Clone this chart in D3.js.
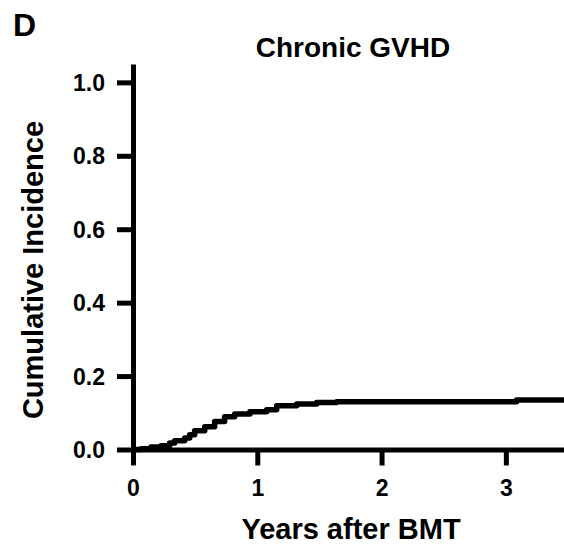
<!DOCTYPE html>
<html>
<head>
<meta charset="utf-8">
<script src="https://cdn.jsdelivr.net/npm/d3@7"></script>
<style>
  html, body { margin: 0; padding: 0; background: #fff; }
  svg { display: block; font-family: "Liberation Sans", Arial, Helvetica, sans-serif; font-weight: bold; }
</style>
</head>
<body>
<svg id="chart" width="564" height="547"></svg>
<script>
// Cumulative incidence of chronic GVHD over time (years after BMT)
const years     = [0, 0.064, 0.145, 0.225, 0.295, 0.335, 0.416, 0.456, 0.496, 0.577, 0.657, 0.737, 0.818, 0.941, 1.075, 1.156, 1.317, 1.478, 1.639, 3.086, 3.5];
const incidence = [0, 0.002, 0.007, 0.010, 0.018, 0.024, 0.031, 0.040, 0.051, 0.062, 0.076, 0.089, 0.097, 0.103, 0.108, 0.119, 0.124, 0.128, 0.130, 0.135, 0.135];
const xTicks = [0, 1, 2, 3];
const yTicks = [0, 0.2, 0.4, 0.6, 0.8, 1.0];
const panelLabel = "D";
const title = "Chronic GVHD";
const xTitle = "Years after BMT";
const yTitle = "Cumulative Incidence";

const svg = d3.select("#chart");

const x = d3.scaleLinear().domain([0, 3.5]).range([133, 568]);
const y = d3.scaleLinear().domain([0, 1.05]).range([449.5, 64]);

const axisStroke = 5;

// x axis
const gx = svg.append("g")
  .attr("transform", `translate(0,${y(0)})`)
  .call(d3.axisBottom(x).tickValues(xTicks).tickFormat(d3.format("d")).tickSize(16).tickSizeOuter(0).tickPadding(14));

// y axis
const gy = svg.append("g")
  .attr("transform", `translate(${x(0)},0)`)
  .call(d3.axisLeft(y).tickValues(yTicks).tickFormat(d3.format(".1f")).tickSize(16).tickSizeOuter(0).tickPadding(12));

[gx, gy].forEach(g => {
  g.select(".domain").attr("stroke", "#000").attr("stroke-width", axisStroke);
  g.selectAll(".tick line").attr("stroke", "#000").attr("stroke-width", axisStroke);
  g.selectAll(".tick text")
    .attr("fill", "#000")
    .style("font-size", "23px")
    .style("font-weight", "bold")
    .style("font-family", "'Liberation Sans', Arial, sans-serif");
});
gx.selectAll(".tick text").attr("dy", "0.72em");
gy.selectAll(".tick text").attr("dy", "0.35em");

// incidence curve
const pts = years.map((t, i) => [t, incidence[i]]);
const line = d3.line()
  .x(d => x(d[0]))
  .y(d => y(d[1]))
  .curve(d3.curveStepAfter);

svg.append("path")
  .datum(pts)
  .attr("d", line)
  .attr("fill", "none")
  .attr("stroke", "#000")
  .attr("stroke-width", 5.5)
  .attr("stroke-linejoin", "round");

// texts
svg.append("text")
  .attr("x", 13).attr("y", 36)
  .style("font-size", "32px")
  .text(panelLabel);

svg.append("text")
  .attr("x", 353).attr("y", 57)
  .attr("text-anchor", "middle")
  .style("font-size", "28px")
  .text(title);

svg.append("text")
  .attr("x", 351).attr("y", 539)
  .attr("text-anchor", "middle")
  .style("font-size", "29px")
  .text(xTitle);

svg.append("text")
  .attr("transform", "translate(43,270) rotate(-90)")
  .attr("text-anchor", "middle")
  .style("font-size", "29px")
  .text(yTitle);
</script>
</body>
</html>
